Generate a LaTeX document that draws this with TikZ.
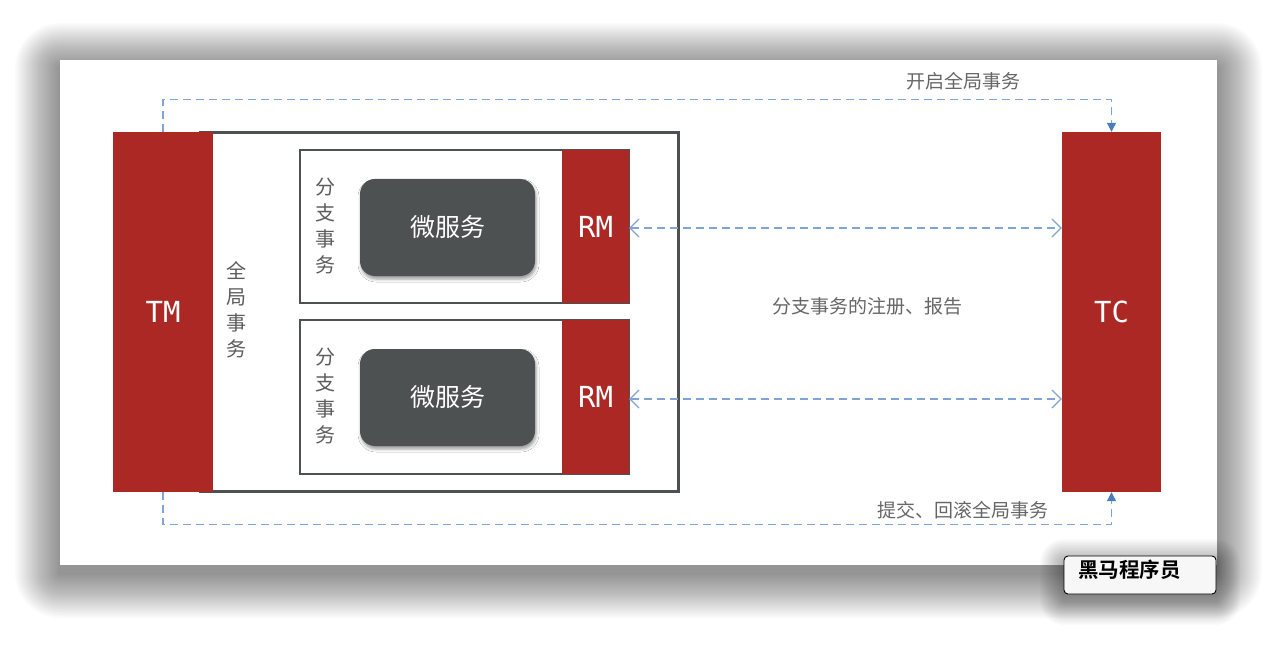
\documentclass[tikz,border=0pt]{standalone}
\usepackage{fontspec}
\setmainfont{Noto Sans CJK SC}
\newfontfamily\monofnt{DejaVu Sans Mono}
\newfontfamily\cjkbold{Noto Sans CJK SC Bold}
\usetikzlibrary{arrows.meta,shadows.blur,calc}
\definecolor{redc}{HTML}{AB2825}
\definecolor{darkc}{HTML}{4D5152}
\definecolor{bluec}{HTML}{7FA5D8}
\definecolor{bluetip}{HTML}{4A7CC0}
\definecolor{txtc}{HTML}{666666}
\tikzset{
  redbox/.style={fill=redc,draw=none,text=white,font=\monofnt\fontsize{29}{29}\selectfont,inner sep=0pt},
  msbox/.style={fill=darkc,draw=none,rounded corners=15pt,text=white,font=\fontsize{25}{25}\selectfont,inner sep=0pt,
     blur shadow={shadow xshift=1pt,shadow yshift=-3pt,shadow blur radius=3pt,shadow opacity=40}},
  branchbox/.style={draw=darkc,line width=1.6pt,fill=white,inner sep=0pt},
  outerbox/.style={draw=darkc,line width=3pt,inner sep=0pt},
  vtext/.style={align=center,text=txtc!90!black,font=\fontsize{20}{26}\selectfont,inner sep=0pt},
  lbl/.style={text=txtc,font=\fontsize{19}{19}\selectfont,inner sep=0pt},
  dashconn/.style={draw=bluec,line width=1.2pt,dash pattern=on 8pt off 5pt},
  filltip/.style={-{Triangle[length=9pt,width=9pt,fill=bluetip,color=bluetip]}},
  opentips/.style={{Straight Barb[length=9pt,width=18pt,line width=1.2pt]}-{Straight Barb[length=9pt,width=18pt,line width=1.2pt]}}
}
\begin{document}
\begin{tikzpicture}[x=1pt,y=-1pt]
\useasboundingbox (0,0) rectangle (1277,655);
\fill[white] (0,0) rectangle (1277,655);
% page shadow
\foreach \i in {1,...,30} {
  \fill[black,opacity=0.014,rounded corners=\i*1.5pt]
    (60-\i*1.5,68-\i*1.5) rectangle (1217+\i*1.5,573+\i*1.5);
}
% page
\node[fill=white,draw=none,minimum width=1157pt,minimum height=505pt,inner sep=0pt] (page) at (638.5,312.5) {};
% outer global box
\node[outerbox,minimum width=478pt,minimum height=358pt] (global) at (439,312) {};
% TM and TC
\node[redbox,minimum width=100pt,minimum height=360pt] (TM) at (163,312) {TM};
\node[redbox,minimum width=99pt,minimum height=360pt] (TC) at (1111.5,312) {TC};
\node[vtext] (gtext) at (236,310) {全\\局\\事\\务};
% branch 1
\node[branchbox,minimum width=329pt,minimum height=153pt] (b1) at (464.5,226.5) {};
\node[redbox,minimum width=67pt,minimum height=153pt] (RM1) at (595.5,226.5) {RM};
\node[msbox,minimum width=175pt,minimum height=97pt] (ms1) at (447.5,227.5) {微服务};
\node[vtext] (bt1) at (325,226) {分\\支\\事\\务};
% branch 2
\node[branchbox,minimum width=329pt,minimum height=154pt] (b2) at (464.5,397) {};
\node[redbox,minimum width=67pt,minimum height=154pt] (RM2) at (595.5,397) {RM};
\node[msbox,minimum width=175pt,minimum height=97pt] (ms2) at (447.5,397.5) {微服务};
\node[vtext] (bt2) at (325,396) {分\\支\\事\\务};
% connectors
\coordinate (r1) at ($(RM1.east)+(0,1.5)$);
\coordinate (r2) at ($(RM2.east)+(0,2)$);
\draw[dashconn,opentips] (r1) -- (r1 -| TC.west);
\draw[dashconn,opentips] (r2) -- (r2 -| TC.west);
\draw[dashconn,filltip] (TM.north) -- ++(0,-32) -| (TC.north);
\draw[dashconn,filltip] (TM.south) -- ++(0,32) -| (TC.south);
% labels
\node[lbl] (l1) at (963,81) {开启全局事务};
\node[lbl] (l2) at (867,306) {分支事务的注册、报告};
\node[lbl] (l3) at (963,510) {提交、回滚全局事务};
% watermark shadow
\foreach \i in {1,...,16} {
  \fill[black,opacity=0.02,rounded corners=\i*1.5pt]
    (1064-\i*1.5,563-\i*1.5) rectangle (1216+\i*1.5,601+\i*1.5);
}
\node[draw=black,line width=0.9pt,fill=white!97!black,rounded corners=4pt,minimum width=152pt,minimum height=38pt,inner sep=0pt] (wm) at (1140,575) {};
\node[anchor=west,font=\cjkbold\fontsize{20.5}{20.5}\selectfont,inner sep=0pt] (wmt) at (1078,570) {黑马程序员};
\end{tikzpicture}
\end{document}
